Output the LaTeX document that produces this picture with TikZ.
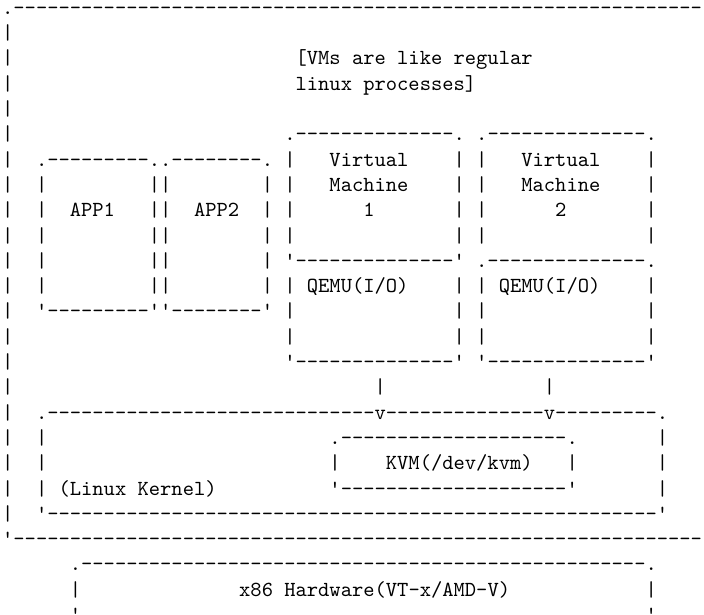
\documentclass[tikz,border=0pt]{standalone}
\font\asc="[lmmono10-regular]" at 21.5pt
\newlength\cw
\setlength\cw{11.2875pt}
\newcommand\sk[1]{\kern#1\cw}
\newcount\rc
\newcommand\rep[2]{\rc=0 \loop\ifnum\rc<#1 #2\advance\rc by 1 \repeat}
\tikzset{asciirow/.style={anchor=base west, inner sep=0pt, outer sep=0pt, font=\asc\frenchspacing}}
\begin{document}
\begin{tikzpicture}[x=1pt,y=1pt]
\useasboundingbox (0,0) rectangle (704,-614);
\fill[white] (0,0) rectangle (704,-614);
\clip (0,0) rectangle (704,-614);
\node[asciirow, text height=12pt] (r0) at (2.15,{-14.3-25.3*0}) {.\rep{61}{-}};
\node[asciirow] (r1) at (2.15,{-14.3-25.3*1}) {|};
\node[asciirow] (r2) at (2.15,{-14.3-25.3*2}) {|\sk{25}[VMs are like regular};
\node[asciirow] (r3) at (2.15,{-14.3-25.3*3}) {|\sk{25}linux processes]};
\node[asciirow] (r4) at (2.15,{-14.3-25.3*4}) {|};
\node[asciirow] (r5) at (2.15,{-14.3-25.3*5}) {|\sk{24}.\rep{14}{-}.\sk{1}.\rep{14}{-}.};
\node[asciirow] (r6) at (2.15,{-14.3-25.3*6}) {|\sk{2}.\rep{9}{-}..\rep{8}{-}.\sk{1}|\sk{3}Virtual\sk{4}|\sk{1}|\sk{3}Virtual\sk{4}|};
\node[asciirow] (r7) at (2.15,{-14.3-25.3*7}) {|\sk{2}|\sk{9}||\sk{8}|\sk{1}|\sk{3}Machine\sk{4}|\sk{1}|\sk{3}Machine\sk{4}|};
\node[asciirow] (r8) at (2.15,{-14.3-25.3*8}) {|\sk{2}|\sk{2}APP1\sk{3}||\sk{2}APP2\sk{2}|\sk{1}|\sk{6}1\sk{7}|\sk{1}|\sk{6}2\sk{7}|};
\node[asciirow] (r9) at (2.15,{-14.3-25.3*9}) {|\sk{2}|\sk{9}||\sk{8}|\sk{1}|\sk{14}|\sk{1}|\sk{14}|};
\node[asciirow] (r10) at (2.15,{-14.3-25.3*10}) {|\sk{2}|\sk{9}||\sk{8}|\sk{1}'\rep{14}{-}'\sk{1}.\rep{14}{-}.};
\node[asciirow] (r11) at (2.15,{-14.3-25.3*11}) {|\sk{2}|\sk{9}||\sk{8}|\sk{1}|\sk{1}QEMU(I/O)\sk{4}|\sk{1}|\sk{1}QEMU(I/O)\sk{4}|};
\node[asciirow] (r12) at (2.15,{-14.3-25.3*12}) {|\sk{2}'\rep{9}{-}''\rep{8}{-}'\sk{1}|\sk{14}|\sk{1}|\sk{14}|};
\node[asciirow] (r13) at (2.15,{-14.3-25.3*13}) {|\sk{24}|\sk{14}|\sk{1}|\sk{14}|};
\node[asciirow] (r14) at (2.15,{-14.3-25.3*14}) {|\sk{24}'\rep{14}{-}'\sk{1}'\rep{14}{-}'};
\node[asciirow] (r15) at (2.15,{-14.3-25.3*15}) {|\sk{32}|\sk{14}|};
\node[asciirow] (r16) at (2.15,{-14.3-25.3*16}) {|\sk{2}.\rep{29}{-}v\rep{14}{-}v\rep{9}{-}.};
\node[asciirow] (r17) at (2.15,{-14.3-25.3*17}) {|\sk{2}|\sk{25}.\rep{20}{-}.\sk{7}|};
\node[asciirow] (r18) at (2.15,{-14.3-25.3*18}) {|\sk{2}|\sk{25}|\sk{4}KVM(/dev/kvm)\sk{3}|\sk{7}|};
\node[asciirow] (r19) at (2.15,{-14.3-25.3*19}) {|\sk{2}|\sk{1}(Linux Kernel)\sk{10}'\rep{20}{-}'\sk{7}|};
\node[asciirow] (r20) at (2.15,{-14.3-25.3*20}) {|\sk{2}'\rep{54}{-}'};
\node[asciirow] (r21) at (2.15,{-14.3-25.3*21}) {'\rep{61}{-}};
\node[asciirow] (r22) at (2.15,{-14.3-25.3*22}) {\sk{6}.\rep{50}{-}.};
\node[asciirow] (r23) at (2.15,{-14.3-25.3*23}) {\sk{6}|\sk{14}x86 Hardware(VT-x/AMD-V)\sk{12}|};
\node[asciirow] (r24) at (2.15,{-14.3-25.3*24}) {\sk{6}'\sk{50}'};
\end{tikzpicture}
\end{document}
